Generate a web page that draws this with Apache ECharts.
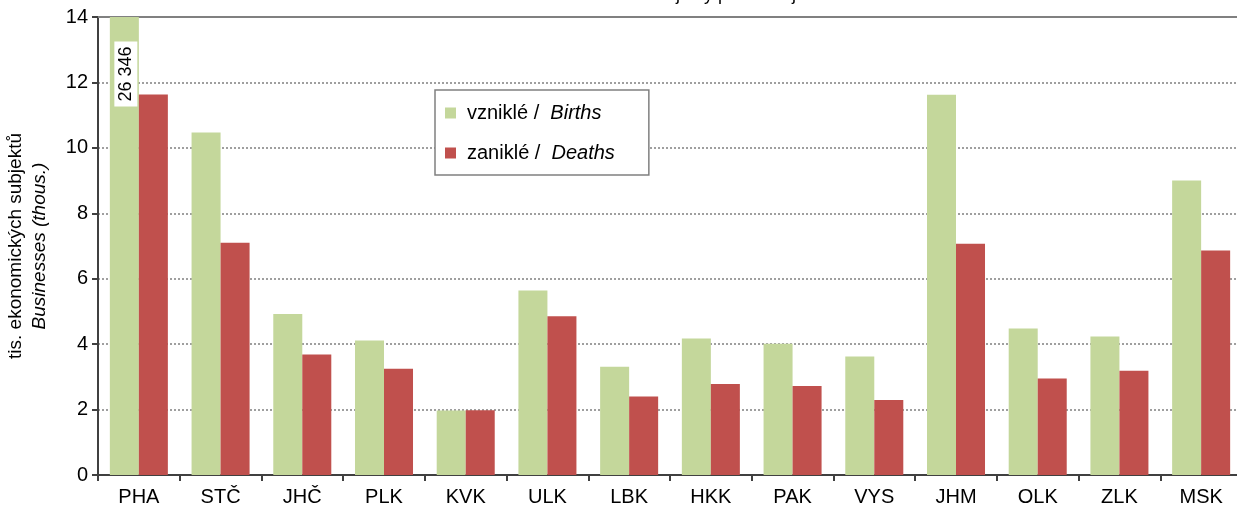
<!DOCTYPE html>
<html>
<head>
<meta charset="utf-8">
<script src="https://cdn.jsdelivr.net/npm/echarts@6/dist/echarts.min.js"></script>
<style>
  html, body { margin: 0; padding: 0; background: #fff; }
  #container { width: 1237px; height: 510px; }
</style>
</head>
<body>
<div id="container"></div>
<script>
var regions = ['PHA', 'STČ', 'JHČ', 'PLK', 'KVK', 'ULK', 'LBK', 'HKK', 'PAK', 'VYS', 'JHM', 'OLK', 'ZLK', 'MSK'];
// tis. subjektu
var births = [26.346, 10.47, 4.92, 4.11, 1.97, 5.64, 3.31, 4.17, 4.01, 3.62, 11.62, 4.48, 4.23, 9.00];
var deaths = [11.63, 7.10, 3.68, 3.25, 1.98, 4.85, 2.40, 2.78, 2.72, 2.29, 7.07, 2.95, 3.19, 6.86];
var seriesCz = ['vzniklé', 'zaniklé'];
var seriesEn = ['Births', 'Deaths'];
var yTicks = [0, 2, 4, 6, 8, 10, 12, 14];

var dom = document.getElementById("container");
var myChart = echarts.init(dom);

// PHA prerusteny sloupec - popisek s hodnotou
var birthsData = births.map(function (v, i) {
    if (v > yTicks[yTicks.length - 1]) {
        return {
            value: v,
            label: {
                show: true,
                position: [16, 57],
                rotate: 90,
                align: 'center',
                verticalAlign: 'middle',
                backgroundColor: '#fff',
                padding: [4, 5, 1, 5],
                fontFamily: 'Liberation Sans',
                fontSize: 18,
                color: '#000',
                formatter: function (p) {
                    return Math.round(p.value * 1000).toString().replace(/\B(?=(\d{3})+(?!\d))/g, ' ');
                }
            }
        };
    }
    return v;
});

var option = {
    animation: false,
    textStyle: { fontFamily: 'Liberation Sans' },
    title: {
        text: 'Vzniklé a zaniklé ekonomické subjekty podle krajů v roce 2013',
        left: 651,
        textAlign: 'center',
        top: -19,
        textStyle: { fontSize: 18, fontWeight: 'normal', color: '#000', fontFamily: 'Liberation Sans' }
    },
    legend: {
        orient: 'vertical',
        left: 435,
        top: 90,
        padding: [13, 34, 12, 10],
        itemGap: 20,
        itemWidth: 11,
        itemHeight: 11,
        icon: 'rect',
        borderColor: '#808080',
        borderWidth: 1.5,
        backgroundColor: '#fff',
        data: seriesCz,
        formatter: function (name) {
            var i = seriesCz.indexOf(name);
            return '{n|' + name + ' /  }{i|' + seriesEn[i] + '}';
        },
        textStyle: {
            rich: {
                n: { fontSize: 20, color: '#000', fontFamily: 'Liberation Sans', lineHeight: 22, padding: [0, 0, 0, 6] },
                i: { fontSize: 20, color: '#000', fontStyle: 'italic', fontFamily: 'Liberation Sans', lineHeight: 22 }
            }
        }
    },
    grid: {
        left: 98,
        top: 17,
        width: 1144,
        bottom: 35,
        outerBoundsMode: 'none',
        containLabel: false
    },
    xAxis: [
        {
            type: 'category',
            data: regions,
            axisLine: { lineStyle: { color: '#404040', width: 2 } },
            axisTick: { show: true, length: 6, lineStyle: { color: '#404040', width: 2 } },
            axisLabel: { margin: 12, fontSize: 20, color: '#000', fontFamily: 'Liberation Sans' }
        },
        {
            type: 'category',
            data: regions,
            position: 'top',
            axisLine: { lineStyle: { color: '#808080', width: 2 } },
            axisTick: { show: false },
            axisLabel: { show: false }
        }
    ],
    yAxis: {
        type: 'value',
        min: yTicks[0],
        max: yTicks[yTicks.length - 1],
        interval: 2,
        name: '{a|tis. ekonomických subjektů}\n{b|Businesses (thous.)}',
        nameLocation: 'middle',
        nameRotate: 90,
        nameGap: 46,
        nameTextStyle: {
            rich: {
                a: { fontSize: 19, color: '#000', fontFamily: 'Liberation Sans', lineHeight: 24 },
                b: { fontSize: 19, color: '#000', fontStyle: 'italic', fontFamily: 'Liberation Sans', lineHeight: 24 }
            }
        },
        axisLine: { show: true, lineStyle: { color: '#404040', width: 2 } },
        axisTick: { show: true, length: 6, lineStyle: { color: '#404040', width: 2 } },
        axisLabel: { margin: 10, fontSize: 20, color: '#000', fontFamily: 'Liberation Sans' },
        splitLine: { show: true, lineStyle: { color: '#808080', type: [2, 2], width: 1.5 } }
    },
    series: [
        {
            name: seriesCz[0],
            type: 'bar',
            data: birthsData,
            barGap: '0%',
            barCategoryGap: '29%',
            itemStyle: { color: '#C4D79B' }
        },
        {
            name: seriesCz[1],
            type: 'bar',
            data: deaths,
            itemStyle: { color: '#C0504D' }
        }
    ]
};

if (option && typeof option === "object") {
    myChart.setOption(option, true);
}
</script>
</body>
</html>
